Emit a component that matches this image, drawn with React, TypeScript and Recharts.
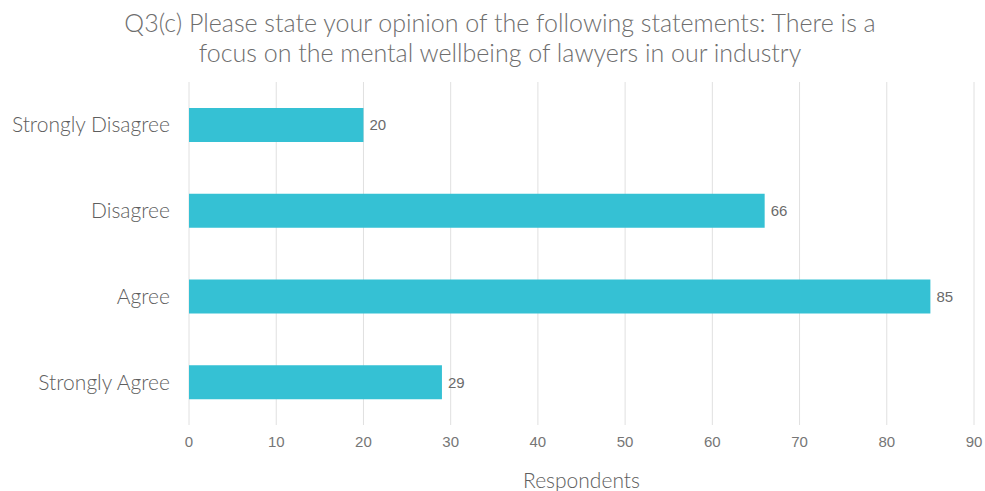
import { BarChart, Bar, XAxis, YAxis, CartesianGrid, LabelList } from 'recharts';

const categories = ['Strongly Disagree', 'Disagree', 'Agree', 'Strongly Agree'];
const respondents = [20, 66, 85, 29];
const xTicks = [0, 10, 20, 30, 40, 50, 60, 70, 80, 90];

const data = categories.map((name, i) => ({ name, value: respondents[i] }));

export default function App() {
    return (
        <div style={{ position: 'absolute', left: 0, top: 0, width: 985, height: 491, background: '#fff' }}>
            <div
                style={{
                    position: 'absolute',
                    left: 0,
                    top: 7,
                    width: 1000,
                    textAlign: 'center',
                    fontFamily: 'Lato',
                    fontWeight: 300,
                    fontSize: 25,
                    lineHeight: '30px',
                    color: '#6e6e6e',
                }}
            >
                Q3(c) Please state your opinion of the following statements: There is a
                <br />
                focus on the mental wellbeing of lawyers in our industry
            </div>
            <BarChart
                width={985}
                height={491}
                data={data}
                layout="vertical"
                margin={{ top: 82, right: 11, bottom: 0, left: 0 }}
                barSize={34}
            >
                <CartesianGrid horizontal={false} stroke="#e0e0e0" />
                <XAxis
                    type="number"
                    domain={[0, 90]}
                    ticks={xTicks}
                    axisLine={false}
                    tickLine={false}
                    tickMargin={5}
                    height={66}
                    tick={{ fill: '#767676', fontSize: 15, fontFamily: 'Liberation Sans' }}
                    label={{
                        value: 'Respondents',
                        position: 'insideBottom',
                        offset: 3,
                        fill: '#5e5e5e',
                        fontSize: 21,
                        fontWeight: 300,
                        fontFamily: 'Lato',
                    }}
                />
                <YAxis
                    type="category"
                    dataKey="name"
                    width={189}
                    axisLine={false}
                    tickLine={false}
                    tickMargin={13}
                    tick={{ fill: '#5e5e5e', fontSize: 21, fontWeight: 300, fontFamily: 'Lato' }}
                />
                <Bar dataKey="value" fill="#35c1d4" isAnimationActive={false}>
                    <LabelList
                        dataKey="value"
                        position="right"
                        offset={6}
                        fill="#6b6b6b"
                        fontSize={15}
                        fontFamily="Liberation Sans"
                    />
                </Bar>
            </BarChart>
        </div>
    );
}
